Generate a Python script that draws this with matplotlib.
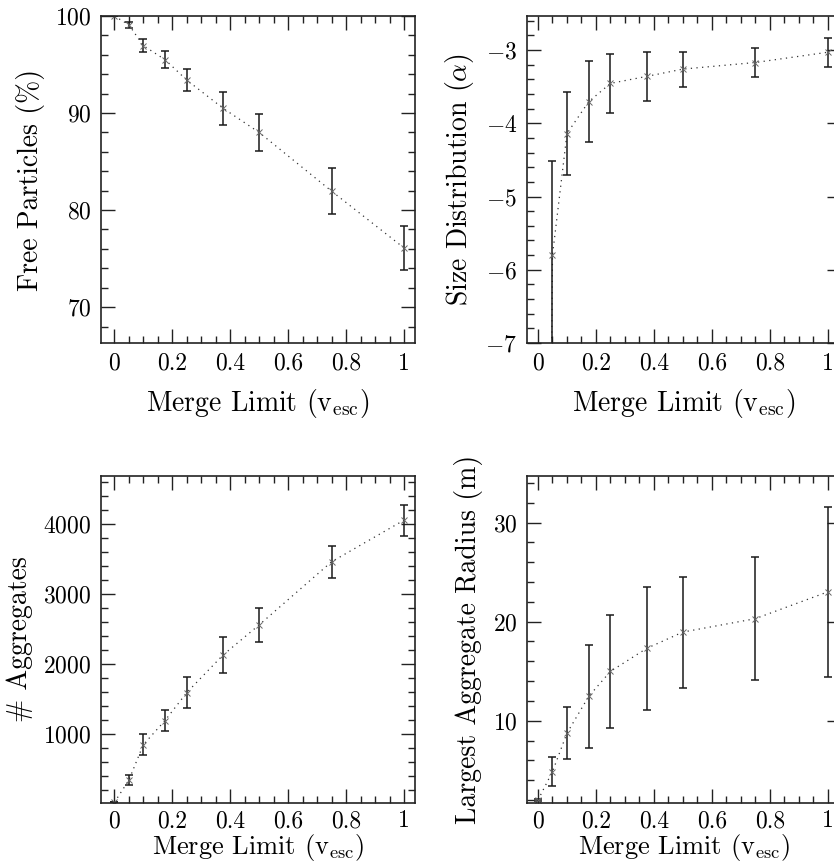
import matplotlib
matplotlib.use('Agg')
import matplotlib.pyplot as plt
from matplotlib.ticker import MultipleLocator, FuncFormatter

plt.rcParams['font.family'] = ['cmr10', 'DejaVu Serif']
plt.rcParams['mathtext.fontset'] = 'cm'
plt.rcParams['axes.formatter.use_mathtext'] = True
plt.rcParams['axes.unicode_minus'] = True

# merge limit in units of escape velocity
merge = [0, 0.05, 0.1, 0.175, 0.25, 0.375, 0.5, 0.75, 1.0]

free_pct = [100, 99.1, 96.95, 95.5, 93.4, 90.5, 88.0, 81.95, 76.1]
free_err = [0, 0.3, 0.7, 0.9, 1.18, 1.7, 1.9, 2.4, 2.3]

alpha = [-30, -5.80, -4.14, -3.705, -3.455, -3.36, -3.26, -3.17, -3.03]
alpha_err = [0, 1.28, 0.57, 0.555, 0.40, 0.34, 0.24, 0.195, 0.2]

n_agg = [20, 337, 846, 1192, 1591, 2128, 2560, 3463, 4058]
n_agg_err = [0, 72, 150, 150, 225, 260, 240, 230, 220]

radius = [2.0, 4.87, 8.75, 12.46, 14.98, 17.3, 18.95, 20.3, 23.0]
radius_err = [0.1, 1.5, 2.6, 5.2, 5.7, 6.2, 5.6, 6.2, 8.6]

xlab = r'Merge Limit (v$_{\rm esc}$)'

fig = plt.figure(figsize=(8.34, 8.66), dpi=100)

W = 314 / 834
H = 327 / 866
panels = [
    # left, bottom, y, err, ylabel, ylim, major, minor, xlim, tick pad, xlabel pad, xlabel size
    (101 / 834, 1 - 343 / 866, free_pct, free_err, 'Free Particles (%)', (66.3, 100), 10, 2, (-0.046, 1.038), 7, 9, 20),
    (527 / 834, 1 - 343 / 866, alpha, alpha_err, r'Size Distribution ($\alpha$)', (-7, -2.535), 1, 0.2, (-0.038, 1.046), 7, 9, 20),
    (101 / 834, 1 - 803 / 866, n_agg, n_agg_err, '# Aggregates', (12, 4690), 1000, 200, (-0.046, 1.038), 5, 0, 19),
    (527 / 834, 1 - 803 / 866, radius, radius_err, 'Largest Aggregate Radius (m)', (1.7, 34.7), 10, 2, (-0.038, 1.046), 5, 0, 19),
]

for left, bottom, y, err, ylabel, ylim, major, minor, xlim, tpad, xpad, xsize in panels:
    ax = fig.add_axes([left, bottom, W, H])
    ax.plot(merge, y, color='#333333', lw=0.9, ls=(0, (1, 3.5)))
    ax.errorbar(merge, y, yerr=err, fmt='none', ecolor='#1a1a1a',
                elinewidth=1.1, capsize=3, capthick=1.1)
    ax.plot(merge, y, 'x', color='#666666', ms=4, mew=0.7)
    ax.set_xlim(*xlim)
    ax.set_ylim(*ylim)
    ax.xaxis.set_major_locator(MultipleLocator(0.2))
    ax.xaxis.set_minor_locator(MultipleLocator(0.05))
    ax.xaxis.set_major_formatter(FuncFormatter(lambda v, p: f'{v:g}'))
    ax.yaxis.set_major_locator(MultipleLocator(major))
    ax.yaxis.set_minor_locator(MultipleLocator(minor))
    ax.tick_params(which='both', direction='in', top=True, right=True,
                   color='#222222', labelsize=17, pad=7)
    ax.tick_params(axis='x', which='both', pad=tpad)
    ax.tick_params(which='major', length=10, width=1.0)
    ax.tick_params(which='minor', length=5, width=1.0)
    for s in ax.spines.values():
        s.set_linewidth(1.2)
        s.set_color('#222222')
    ax.set_xlabel(xlab, fontsize=xsize, labelpad=xpad)
    ax.set_ylabel(ylabel, fontsize=20, labelpad=7)

fig.savefig('out.png', dpi=100)
